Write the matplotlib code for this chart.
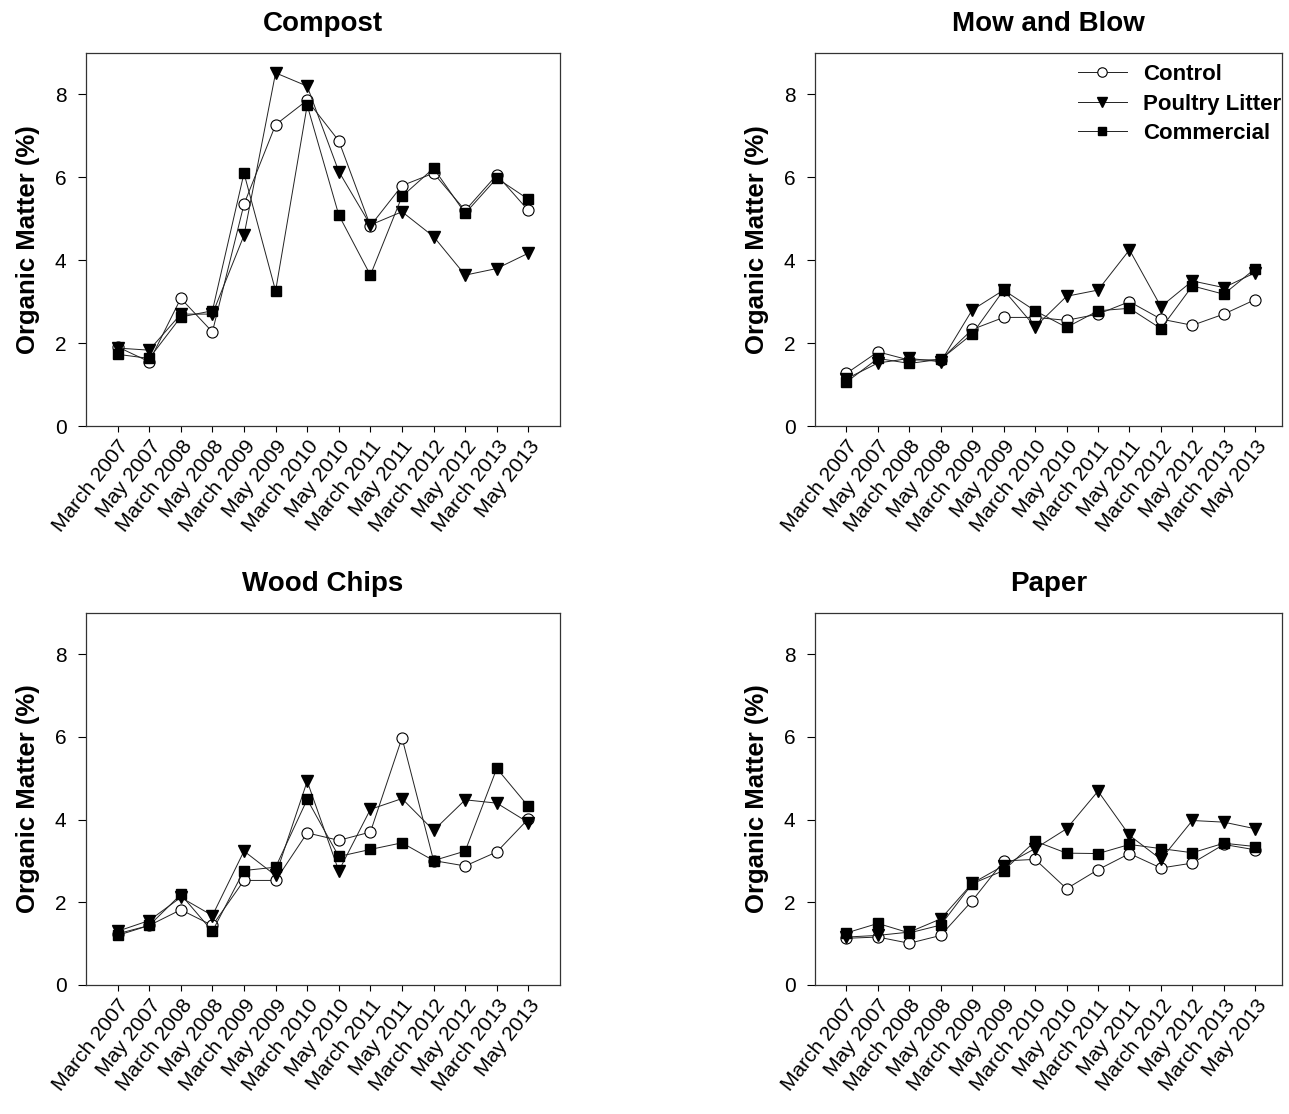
import matplotlib
matplotlib.use("Agg")
import matplotlib.pyplot as plt

plt.rcParams['font.family'] = ['Liberation Sans', 'DejaVu Sans']

dates = ["March 2007", "May 2007", "March 2008", "May 2008", "March 2009", "May 2009",
         "March 2010", "May 2010", "March 2011", "May 2011", "March 2012", "May 2012",
         "March 2013", "May 2013"]

compost_control = [1.91, 1.55, 3.08, 2.27, 5.35, 7.27, 7.86, 6.88, 4.83, 5.80, 6.10, 5.20, 6.06, 5.20]
compost_poultry = [1.88, 1.83, 2.70, 2.70, 4.60, 8.52, 8.20, 6.14, 4.85, 5.17, 4.57, 3.64, 3.80, 4.17]
compost_commercial = [1.73, 1.63, 2.63, 2.78, 6.10, 3.26, 7.74, 5.09, 3.64, 5.54, 6.22, 5.13, 5.98, 5.47]

mow_control = [1.27, 1.79, 1.59, 1.60, 2.33, 2.62, 2.62, 2.55, 2.70, 3.00, 2.58, 2.43, 2.70, 3.05]
mow_poultry = [1.14, 1.52, 1.63, 1.55, 2.80, 3.28, 2.39, 3.13, 3.28, 4.25, 2.88, 3.50, 3.34, 3.70]
mow_commercial = [1.06, 1.63, 1.51, 1.61, 2.22, 3.28, 2.78, 2.38, 2.78, 2.84, 2.35, 3.38, 3.18, 3.80]

wood_control = [1.24, 1.44, 1.82, 1.44, 2.53, 2.53, 3.68, 3.50, 3.70, 5.98, 3.01, 2.88, 3.22, 4.02]
wood_poultry = [1.30, 1.56, 2.12, 1.68, 3.24, 2.65, 4.93, 2.76, 4.25, 4.51, 3.74, 4.48, 4.40, 3.93]
wood_commercial = [1.20, 1.44, 2.19, 1.30, 2.77, 2.85, 4.49, 3.11, 3.28, 3.44, 3.01, 3.24, 5.24, 4.32]

paper_control = [1.13, 1.16, 1.01, 1.20, 2.04, 3.00, 3.04, 2.33, 2.79, 3.18, 2.83, 2.95, 3.40, 3.27]
paper_poultry = [1.16, 1.20, 1.28, 1.60, 2.46, 2.89, 3.30, 3.78, 4.69, 3.62, 3.04, 3.98, 3.94, 3.78]
paper_commercial = [1.26, 1.49, 1.26, 1.45, 2.45, 2.77, 3.48, 3.19, 3.18, 3.40, 3.30, 3.20, 3.43, 3.35]

panels = [
    ("Compost", compost_control, compost_poultry, compost_commercial),
    ("Mow and Blow", mow_control, mow_poultry, mow_commercial),
    ("Wood Chips", wood_control, wood_poultry, wood_commercial),
    ("Paper", paper_control, paper_poultry, paper_commercial),
]

W, H = 1289, 1114
fig = plt.figure(figsize=(W / 100, H / 100), dpi=100)

# axes boxes in pixel coords: (left, top, right, bottom)
boxes = [
    (86, 53, 560, 426),
    (815, 53, 1282, 426),
    (86, 613, 560, 985),
    (815, 613, 1282, 985),
]

x = list(range(len(dates)))
for (title, ctrl, poul, comm), (l, t, r, b) in zip(panels, boxes):
    ax = fig.add_axes([l / W, 1 - b / H, (r - l) / W, (b - t) / H])
    ax.plot(x, ctrl, color='#222222', lw=0.7, marker='o', markersize=8,
            markerfacecolor='white', markeredgecolor='black', markeredgewidth=0.8,
            label='Control', zorder=3)
    ax.plot(x, poul, color='#222222', lw=0.7, marker='v', markersize=8.5,
            markerfacecolor='black', markeredgecolor='black',
            label='Poultry Litter', zorder=3)
    ax.plot(x, comm, color='#222222', lw=0.7, marker='s', markersize=7.5,
            markerfacecolor='black', markeredgecolor='black',
            label='Commercial', zorder=4)
    ax.set_xlim(-1, 14 if r - l > 470 else 13.85)
    ax.set_ylim(0, 9)
    ax.set_yticks([0, 2, 4, 6, 8])
    ax.set_xticks(x)
    ax.set_xticklabels(dates, rotation=52, ha='right', rotation_mode='anchor', fontsize=15)
    ax.tick_params(axis='y', labelsize=15, length=6, width=0.8, direction='out', pad=8)
    ax.tick_params(axis='x', length=4, width=0.8, direction='out', pad=4)
    for s in ax.spines.values():
        s.set_linewidth(0.9)
        s.set_color('#333333')
    ax.set_ylabel('Organic Matter (%)', fontsize=18.5, fontweight='bold', labelpad=11)
    ax.set_title(title, fontsize=20, fontweight='bold', pad=16)
    if title == "Mow and Blow":
        leg = ax.legend(loc='upper right', frameon=False,
                        prop={'weight': 'bold', 'size': 16}, handlelength=2.2,
                        handletextpad=0.75, labelspacing=0.38, markerscale=0.85,
                        bbox_to_anchor=(1.032, 1.012), borderaxespad=0.3)

fig.savefig('out.png', dpi=100)
